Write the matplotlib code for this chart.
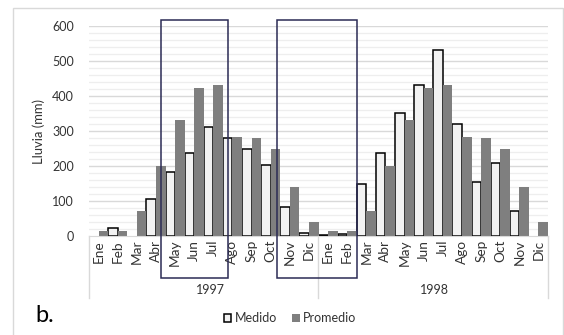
import matplotlib
matplotlib.use("Agg")
import matplotlib.pyplot as plt
import matplotlib.transforms as mtransforms
from matplotlib.patches import Rectangle, Patch
from matplotlib.lines import Line2D
import numpy as np

plt.rcParams['font.family'] = ['Lato', 'DejaVu Sans']

months = ["Ene", "Feb", "Mar", "Abr", "May", "Jun", "Jul", "Ago", "Sep", "Oct", "Nov", "Dic",
          "Ene", "Feb", "Mar", "Abr", "May", "Jun", "Jul", "Ago", "Sep", "Oct", "Nov", "Dic"]
years = ["1997", "1998"]
medido = [np.nan, 22, np.nan, 105, 183, 238, 311, 280, 248, 202, 84, 8,
          3, 6, 149, 237, 350, 430, 531, 319, 155, 209, 72, np.nan]
promedio = [15, 15, 72, 200, 330, 424, 432, 284, 281, 249, 139, 39,
            15, 15, 72, 200, 330, 424, 432, 284, 281, 249, 139, 39]

W, H = 564, 335
fig = plt.figure(figsize=(W / 100, H / 100), dpi=100)

def fx(px):
    return px / W

def fy(py):
    return 1 - py / H

TXT = "#333333"
FS = 9.0

# chart area border
fig.patches.append(Rectangle((fx(13), fy(345)), fx(563) - fx(13), fy(8) - fy(345),
                             transform=fig.transFigure, fill=False,
                             edgecolor="#d9d9d9", linewidth=1.0, zorder=0))

ax = fig.add_axes([fx(89), fy(236), fx(548) - fx(89), fy(26) - fy(236)])
x = np.arange(len(months))
ax.set_xlim(-0.5, len(months) - 0.5)
ax.set_ylim(0, 600)

# gridlines: minor every 20, major every 100
for v in range(20, 601, 20):
    major = v % 100 == 0
    ax.axhline(v, color="#d9d9d9" if major else "#eeeeee",
               linewidth=1.0 if major else 0.9, zorder=0)

ax.bar(x - 0.25, medido, width=0.5, color="#f2f2f2", edgecolor="black",
       linewidth=1.1, zorder=2)
ax.bar(x + 0.25, promedio, width=0.5, color="#7f7f7f", edgecolor="none", zorder=2)

for s in ["top", "right", "left"]:
    ax.spines[s].set_visible(False)
ax.spines["bottom"].set_color("#d9d9d9")
ax.set_yticks(range(0, 601, 100))
ax.tick_params(axis="y", length=0, pad=11, labelsize=FS, labelcolor=TXT)
ax.set_xticks([])
ax.set_ylabel("Lluvia (mm)", fontsize=9.4, color=TXT, labelpad=5)

# month and year labels
trans = mtransforms.blended_transform_factory(ax.transData, fig.transFigure)
for i, m in enumerate(months):
    ax.text(i, fy(240), m, transform=trans, rotation=90, ha="center", va="top",
            fontsize=9.8, color=TXT)
fig.text(fx(210), fy(290), years[0], ha="center", va="center", fontsize=FS, color=TXT)
fig.text(fx(434), fy(290), years[1], ha="center", va="center", fontsize=FS, color=TXT)
for px in (89, 318, 548):
    fig.add_artist(Line2D([fx(px), fx(px)], [fy(236), fy(298)], transform=fig.transFigure,
                          color="#d9d9d9", linewidth=1.0))

# highlighted periods
for x0, x1 in ((3.265, 6.77), (9.33, 13.51)):
    fig.add_artist(Rectangle((0, 0), 1, 1, fill=False, edgecolor="#2b2b55", linewidth=1.1,
                             transform=mtransforms.Affine2D().scale(x1 - x0, fy(20) - fy(278))
                             .translate(x0, fy(278)) + trans, zorder=5))

handles = [Patch(facecolor="#f2f2f2", edgecolor="black", linewidth=1.1, label="Medido"),
           Patch(facecolor="#7f7f7f", edgecolor="none", label="Promedio")]
fig.legend(handles=handles, loc="center", bbox_to_anchor=(fx(290), fy(318)), ncol=2,
           frameon=False, fontsize=FS, handlelength=0.6, handleheight=0.6,
           handletextpad=0.3, columnspacing=1.2, labelcolor=TXT)

fig.text(fx(35), fy(316), "b.", ha="left", va="center", fontsize=17, color="black")

fig.savefig("out.png", dpi=100)
